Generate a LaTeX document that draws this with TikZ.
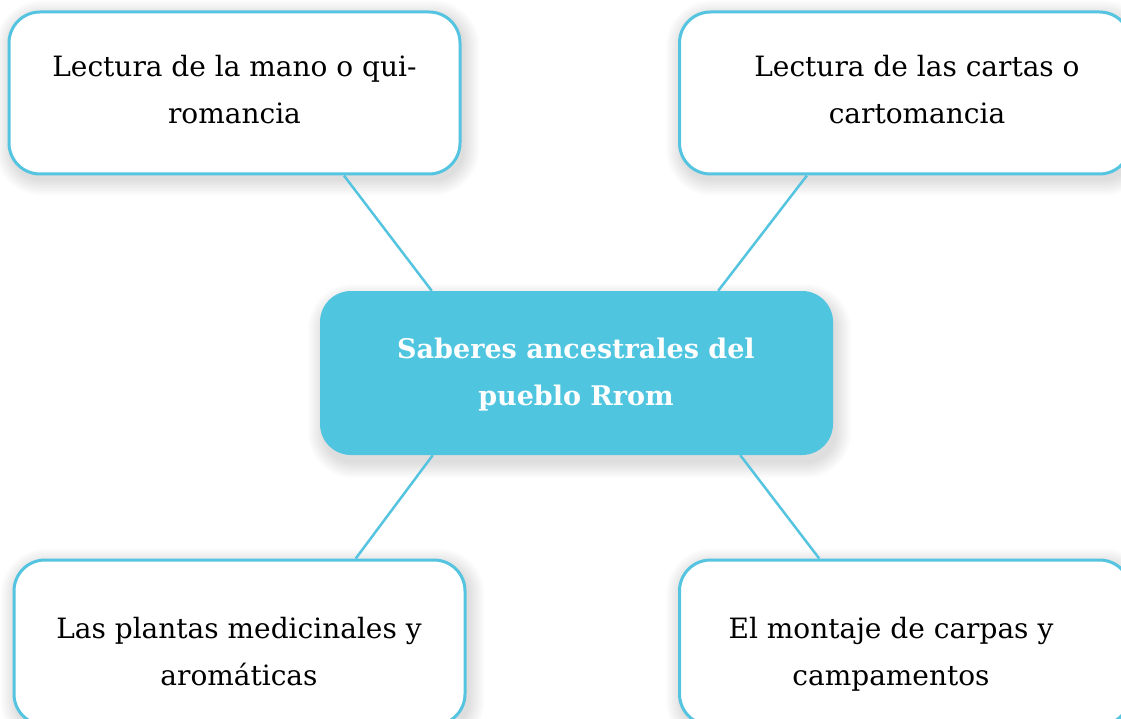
\documentclass[tikz,border=0pt]{standalone}
\usepackage{fontspec}
\setmainfont{DejaVu Serif}
\usetikzlibrary{calc}
\definecolor{rromblue}{HTML}{4FC5E0}
\definecolor{edgeblue}{HTML}{55C4E0}
\pgfdeclarelayer{paper}
\pgfdeclarelayer{shadowlayer}
\pgfsetlayers{paper,shadowlayer,main}
\tikzset{
  leafbox/.style={draw=edgeblue, line width=3pt, fill=white, rounded corners=31pt, inner sep=0pt},
  rootbox/.style={fill=rromblue, draw=none, rounded corners=31pt, inner sep=0pt},
  leaftext/.style={align=center, font=\fontsize{28}{47}\selectfont, text=black},
  roottext/.style={align=center, font=\fontsize{27}{47}\selectfont\bfseries, text=white},
  link/.style={draw=edgeblue, line width=2.5pt},
  shadowlayerstyle/.style={fill=black, opacity=0.012}
}
\newcommand\softshadow[2]{%
  \begin{pgfonlayer}{shadowlayer}
  \foreach \e in {0,1.5,...,15}{%
    \fill[shadowlayerstyle, rounded corners=31pt+\e pt]
      ($(#1.north west)+(3-\e,#2-\e)$) rectangle ($(#1.south east)+(3+\e,#2+\e)$);
  }
  \end{pgfonlayer}}
\begin{document}
\begin{tikzpicture}[x=1pt,y=-1pt]
\begin{pgfonlayer}{paper}
\fill[white] (0,0) rectangle (1121,719);
\end{pgfonlayer}
\useasboundingbox (0,0) rectangle (1121,719);
% boxes
\node[leafbox, minimum width=451pt, minimum height=162pt] (tl) at (234.5,93) {};
\node[leafbox, minimum width=451pt, minimum height=162pt] (tr) at (905,93) {};
\node[leafbox, minimum width=451pt, minimum height=165pt] (bl) at (239.5,642.5) {};
\node[leafbox, minimum width=451pt, minimum height=165pt] (br) at (905,642.5) {};
\node[rootbox, minimum width=513pt, minimum height=164pt] (root) at (576.5,373) {};
\softshadow{tl}{5}
\softshadow{tr}{5}
\softshadow{bl}{5}
\softshadow{br}{5}
\softshadow{root}{8}
% connectors
\coordinate (tlc) at ($(tl.south west)!0.741!(tl.south east)$);
\coordinate (trc) at ($(tr.south west)!0.284!(tr.south east)$);
\coordinate (blc) at ($(bl.north west)!0.756!(bl.north east)$);
\coordinate (brc) at ($(br.north west)!0.311!(br.north east)$);
\coordinate (rtl) at ($(root.north west)!0.218!(root.north east)$);
\coordinate (rtr) at ($(root.north west)!0.776!(root.north east)$);
\coordinate (rbl) at ($(root.south west)!0.220!(root.south east)$);
\coordinate (rbr) at ($(root.south west)!0.819!(root.south east)$);
\draw[link] (tlc) -- (rtl);
\draw[link] (trc) -- (rtr);
\draw[link] (blc) -- (rbl);
\draw[link] (brc) -- (rbr);
% texts
\node[leaftext] (tlt) at (234.5,90) {Lectura de la mano o qui-\\romancia};
\node[leaftext] (trt) at (917,90) {Lectura de las cartas o\\cartomancia};
\node[roottext] (roott) at (576,375) {Saberes ancestrales del\\pueblo Rrom};
\node[leaftext] (blt) at (239,652) {Las plantas medicinales y\\aromáticas};
\node[leaftext] (brt) at (891,654) {El montaje de carpas y\\campamentos};
\end{tikzpicture}
\end{document}
